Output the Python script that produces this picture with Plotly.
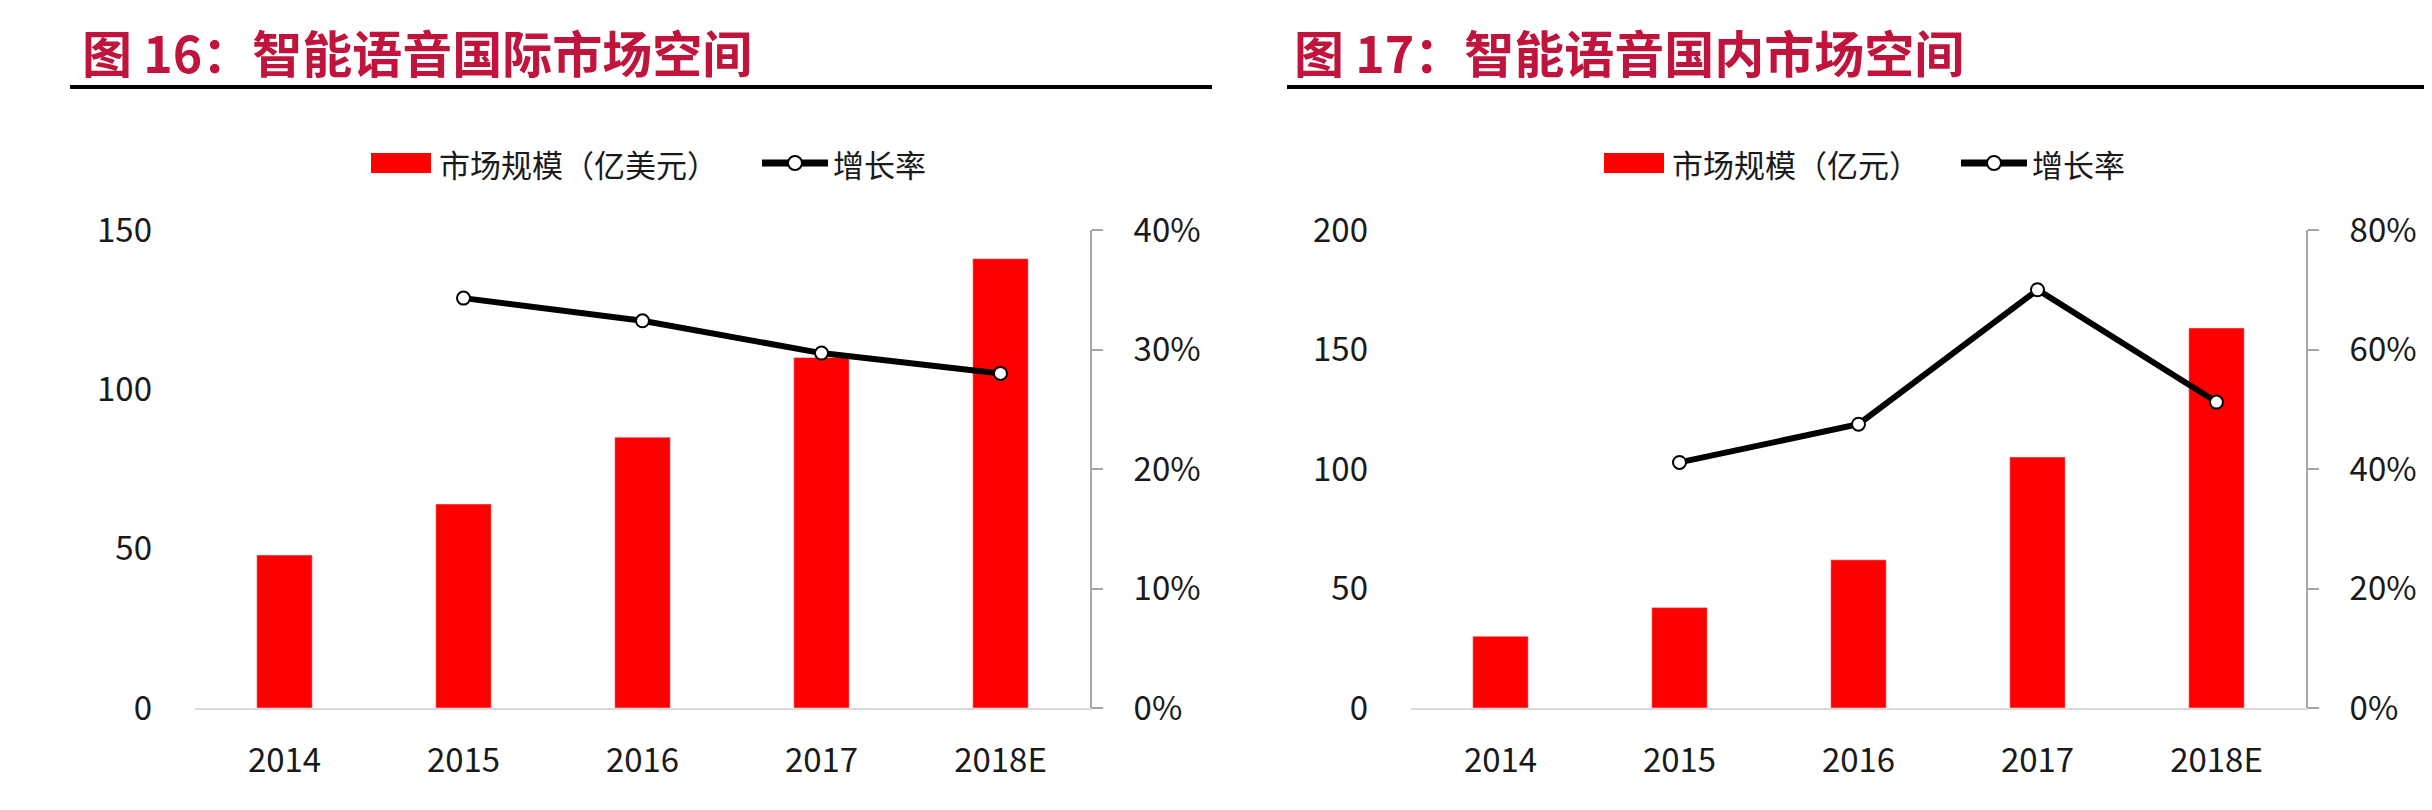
import plotly.graph_objects as go

years = ["2014", "2015", "2016", "2017", "2018E"]
intl_size = [48, 64, 85, 110, 141]
intl_growth = [None, 0.343, 0.324, 0.297, 0.280]
dom_size = [30, 42, 62, 105, 159]
dom_growth = [None, 0.411, 0.475, 0.700, 0.512]

title_left = "图 16：智能语音国际市场空间"
title_right = "图 17：智能语音国内市场空间"
bar_name_left = "市场规模（亿美元）"
bar_name_right = "市场规模（亿元）"
line_name = "增长率"

PAGE_W, PAGE_H = 2432, 810
OFF = 8  # default body margin of the html page
W, H = PAGE_W - 2 * OFF, PAGE_H - 2 * OFF
FONT = "Noto Sans CJK SC"
RED = "#FF0000"
TITLE_RED = "#C0143C"
TXT = "#1a1a1a"

def px(x):
    return (x - OFF) / W

def py(y):
    return 1 - (y - OFF) / H

fig = go.Figure()

fig.add_trace(go.Bar(x=years, y=intl_size, name=bar_name_left, marker_color=RED,
                     xaxis="x", yaxis="y", showlegend=False))
fig.add_trace(go.Scatter(x=years, y=intl_growth, name=line_name, mode="lines+markers",
                         line=dict(color="black", width=6),
                         marker=dict(symbol="circle", size=13, color="white",
                                     line=dict(color="black", width=2)),
                         xaxis="x", yaxis="y2", showlegend=False))
fig.add_trace(go.Bar(x=years, y=dom_size, name=bar_name_right, marker_color=RED,
                     xaxis="x2", yaxis="y3", showlegend=False))
fig.add_trace(go.Scatter(x=years, y=dom_growth, name=line_name, mode="lines+markers",
                         line=dict(color="black", width=6),
                         marker=dict(symbol="circle", size=13, color="white",
                                     line=dict(color="black", width=2)),
                         xaxis="x2", yaxis="y4", showlegend=False))

ydom = [py(708), py(230)]
tickfont = dict(family=FONT, size=33, color=TXT)

xcommon = dict(type="category", showgrid=False, showline=True, linecolor="#d9d9d9",
               linewidth=2, ticks="", tickfont=tickfont, ticklabelstandoff=22,
               zeroline=False, automargin=False)
yleft = dict(showgrid=False, zeroline=False, showline=False, ticks="",
             tickfont=tickfont, ticklabelstandoff=42, automargin=False)
yright = dict(showgrid=False, zeroline=False, showline=True, linecolor="#a6a6a6",
              linewidth=2, ticks="outside", ticklen=11, tickcolor="#a6a6a6",
              tickwidth=2, tickfont=tickfont, ticklabelstandoff=24,
              tickformat=".0%", side="right", automargin=False)

fig.update_layout(
    width=W, height=H,
    margin=dict(l=0, r=0, t=0, b=0, autoexpand=False),
    paper_bgcolor="white", plot_bgcolor="white",
    bargap=0.69,
    showlegend=False,
    xaxis=dict(domain=[px(195), px(1090)], anchor="y", **xcommon),
    yaxis=dict(domain=ydom, anchor="x", range=[0, 150], dtick=50, **yleft),
    yaxis2=dict(overlaying="y", anchor="x", range=[0, 0.40], dtick=0.10, **yright),
    xaxis2=dict(domain=[px(1411), px(2306)], anchor="y3", **xcommon),
    yaxis3=dict(domain=ydom, anchor="x2", range=[0, 200], dtick=50, **yleft),
    yaxis4=dict(overlaying="y3", anchor="x2", range=[0, 0.80], dtick=0.20, **yright),
)

# titles and rules
for tx, text in [(80, title_left), (1292, title_right)]:
    fig.add_annotation(text=text, xref="paper", yref="paper", x=px(tx), y=py(51),
                       xanchor="left", yanchor="middle", showarrow=False,
                       font=dict(family=FONT, size=50, color=TITLE_RED, weight="bold"))
for x0, x1 in [(70, 1212), (1287, 2425)]:
    fig.add_shape(type="line", xref="paper", yref="paper", x0=px(x0), x1=px(x1),
                  y0=py(87), y1=py(87), line=dict(color="black", width=4))

# legends (swatch + label), one per chart
LEG_Y = 163
for rect_x, bar_label, line_x, line_label in [
    (371, bar_name_left, 762, line_name),
    (1604, bar_name_right, 1961, line_name),
]:
    fig.add_shape(type="rect", xref="paper", yref="paper",
                  x0=px(rect_x), x1=px(rect_x + 60), y0=py(LEG_Y - 10), y1=py(LEG_Y + 10),
                  fillcolor=RED, line=dict(width=0))
    fig.add_annotation(text=bar_label, xref="paper", yref="paper", x=px(rect_x + 66),
                       y=py(LEG_Y), xanchor="left", yanchor="middle", showarrow=False,
                       font=dict(family=FONT, size=31, color=TXT))
    fig.add_shape(type="line", xref="paper", yref="paper",
                  x0=px(line_x), x1=px(line_x + 66), y0=py(LEG_Y), y1=py(LEG_Y),
                  line=dict(color="black", width=7))
    cx = line_x + 33
    fig.add_shape(type="circle", xref="paper", yref="paper",
                  x0=px(cx - 7), x1=px(cx + 7), y0=py(LEG_Y - 7), y1=py(LEG_Y + 7),
                  fillcolor="white", line=dict(color="black", width=2))
    fig.add_annotation(text=line_label, xref="paper", yref="paper", x=px(line_x + 69),
                       y=py(LEG_Y), xanchor="left", yanchor="middle", showarrow=False,
                       font=dict(family=FONT, size=31, color=TXT))

fig.write_html("out.html")
